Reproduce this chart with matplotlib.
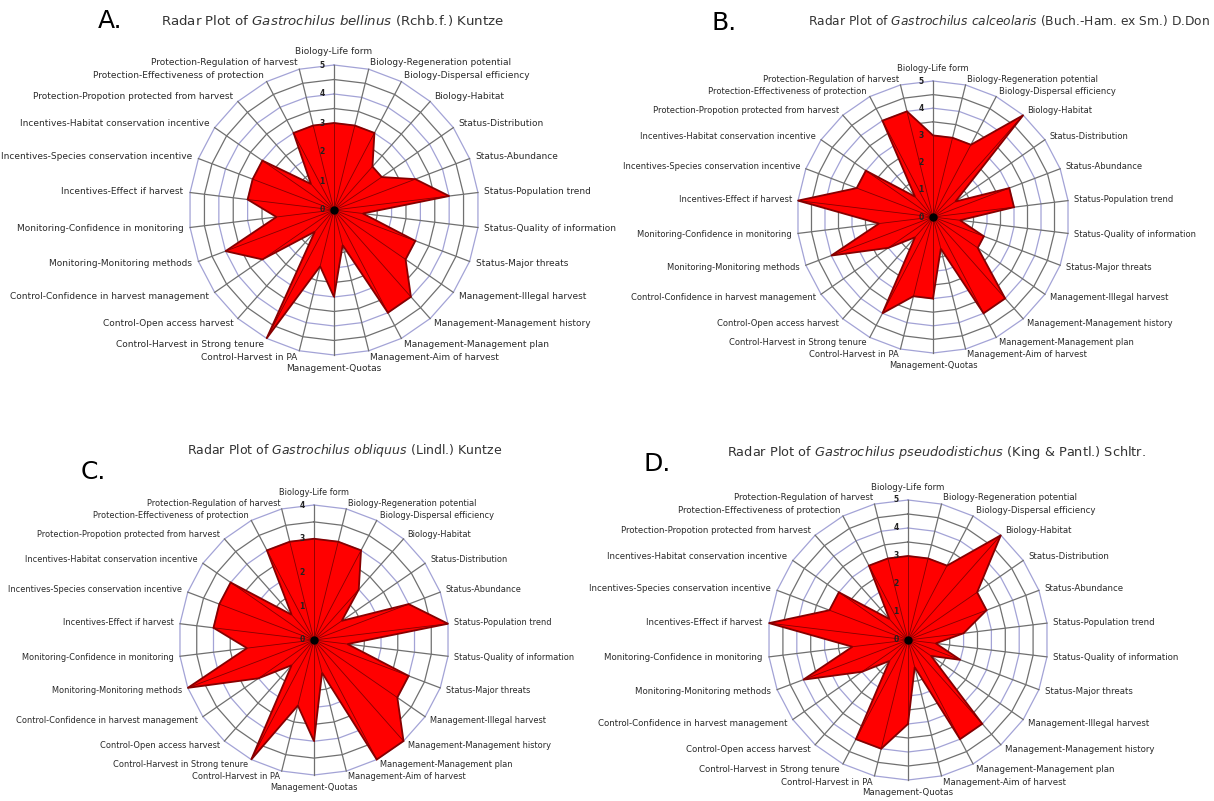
import numpy as np
import matplotlib
matplotlib.use("Agg")
import matplotlib.pyplot as plt

categories = [
    "Biology-Life form", "Biology-Regeneration potential", "Biology-Dispersal efficiency",
    "Biology-Habitat", "Status-Distribution", "Status-Abundance", "Status-Population trend",
    "Status-Quality of information", "Status-Major threats", "Management-Illegal harvest",
    "Management-Management history", "Management-Management plan", "Management-Aim of harvest",
    "Management-Quotas", "Control-Harvest in PA", "Control-Harvest in Strong tenure",
    "Control-Open access harvest", "Control-Confidence in harvest management",
    "Monitoring-Monitoring methods", "Monitoring-Confidence in monitoring",
    "Incentives-Effect if harvest", "Incentives-Species conservation incentive",
    "Incentives-Habitat conservation incentive", "Protection-Propotion protected from harvest",
    "Protection-Effectiveness of protection", "Protection-Regulation of harvest",
]

vals_a = [3, 3, 3, 2, 2, 3, 4, 1, 3, 3, 4, 4, 1.25, 3, 2, 5, 1, 3, 4, 2, 3, 3, 3, 1.2, 3, 3]
vals_b = [3, 3, 3, 5, 1, 3, 3, 1, 2, 2, 4, 4, 1.2, 3, 3, 4, 1, 2, 4, 2, 5, 3, 3, 1, 4, 4]
vals_c = [3, 3, 3, 2, 1, 3, 4, 1, 3, 3, 4, 4, 1, 3, 2, 4, 1, 2, 4, 2, 3, 3, 3, 1, 3, 3]
vals_d = [3, 3, 3, 5, 3, 3, 2, 1, 2, 1, 4, 4, 1, 3, 4, 4, 1, 2, 4, 2, 5, 3, 3, 1, 3, 3]

max_a, max_b, max_c, max_d = 5, 5, 4, 5

species = [
    ("Gastrochilus\\ bellinus", "(Rchb.f.) Kuntze"),
    ("Gastrochilus\\ calceolaris", "(Buch.-Ham. ex Sm.) D.Don"),
    ("Gastrochilus\\ obliquus", "(Lindl.) Kuntze"),
    ("Gastrochilus\\ pseudodistichus", "(King & Pantl.) Schltr."),
]
letters = ["A.", "B.", "C.", "D."]

W, H = 1214, 801
fig = plt.figure(figsize=(W / 100, H / 100), dpi=100)
fig.patch.set_facecolor("white")


def draw_panel(cx, cy, R, vals, rmax, lab_fs):
    ax = fig.add_axes([(cx - R) / W, (H - cy - R) / H, 2 * R / W, 2 * R / H],
                      projection="polar")
    ax.set_theta_zero_location("N")
    ax.set_theta_direction(-1)
    ax.set_ylim(0, rmax)
    ax.grid(False)
    ax.spines["polar"].set_visible(False)
    ax.set_xticks([])
    ax.set_yticks([])
    ax.patch.set_alpha(0)
    n = len(categories)
    th = np.arange(n) * 2 * np.pi / n
    thc = np.append(th, th[0])
    for v in np.arange(0.5, rmax + 0.01, 0.5):
        col = "#a3a3d6" if abs(v - round(v)) < 1e-6 else "#707070"
        ax.plot(thc, [v] * (n + 1), color=col, lw=0.9, zorder=1, clip_on=False)
    for t in th:
        ax.plot([t, t], [0, rmax], color="#707070", lw=0.9, zorder=1, clip_on=False)
    vc = np.append(np.asarray(vals, float), vals[0])
    ax.fill(thc, vc, facecolor="#ff0000", edgecolor="#850000", lw=1.3, zorder=3,
            clip_on=False)
    for t, v in zip(th, vals):
        ax.plot([t, t], [0, v], color="#850000", lw=0.6, zorder=4, clip_on=False)
    ax.plot([0], [0], "o", color="black", ms=5, zorder=6, clip_on=False)
    for v in range(0, rmax + 1):
        ax.annotate(str(v), xy=(0, v), xytext=(-12, 0), textcoords="offset pixels",
                    ha="center", va="center", fontsize=5.5, fontweight="bold",
                    color="#222222", zorder=7, annotation_clip=False)
    for t, lab in zip(th, categories):
        s = np.sin(t)
        if abs(s) < 0.01:
            ax.text(t, rmax * 1.09, lab, ha="center", va="center", fontsize=lab_fs,
                    color="#2a2a2a", clip_on=False)
        else:
            ax.text(t, rmax * 1.045, lab, ha="left" if s > 0 else "right", va="center",
                    fontsize=lab_fs, color="#2a2a2a", clip_on=False)
    return ax


draw_panel(334, 210, 145, vals_a, max_a, 6.45)
draw_panel(933, 217, 136, vals_b, max_b, 6.0)
draw_panel(314, 640, 135, vals_c, max_c, 5.95)
draw_panel(908, 640, 140, vals_d, max_d, 6.2)

title_pos = [(333, 21), (1009, 21), (345, 450), (937, 452)]
title_fs = [9.6, 8.85, 9.0, 9.3]
letter_pos = [(110, 21), (724, 23), (93, 472), (657, 464)]
for (sp, auth), (tx, ty), tfs, let, (lx, ly) in zip(species, title_pos, title_fs,
                                                    letters, letter_pos):
    fig.text(tx / W, 1 - ty / H, "Radar Plot of $\\mathit{" + sp + "}$ " + auth,
             ha="center", va="center", fontsize=tfs, color="#333333")
    fig.text(lx / W, 1 - ly / H, let, ha="center", va="center", fontsize=18, color="black")

fig.savefig("out.png", dpi=100, facecolor="white")
